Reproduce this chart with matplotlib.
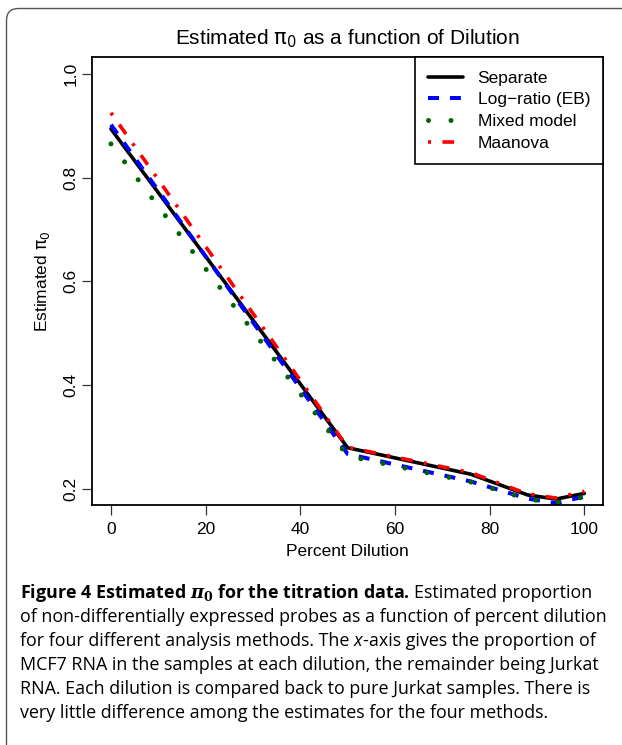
import matplotlib
matplotlib.use("Agg")
import matplotlib.pyplot as plt
from matplotlib.patches import FancyBboxPatch
from matplotlib.transforms import IdentityTransform

# ---------------- data ----------------
dilution = [0, 50, 76, 88, 94, 100]
separate = [0.894, 0.279, 0.228, 0.188, 0.180, 0.191]
log_ratio = [0.902, 0.267, 0.214, 0.181, 0.172, 0.185]
mixed_model = [0.865, 0.263, 0.213, 0.180, 0.173, 0.184]
maanova = [0.925, 0.280, 0.231, 0.190, 0.182, 0.195]

series_labels = ["Separate", "Log\u2212ratio (EB)", "Mixed model", "Maanova"]
x_ticks = [0, 20, 40, 60, 80, 100]
y_ticks = [0.2, 0.4, 0.6, 0.8, 1.0]

caption_bold = "Figure 4 Estimated $\\boldsymbol{\\pi}_{\\mathbf{0}}$ for the titration data."
caption_lines = [
    "Estimated proportion",
    "of non-differentially expressed probes as a function of percent dilution",
    "for four different analysis methods. The",
    "MCF7 RNA in the samples at each dilution, the remainder being Jurkat",
    "RNA. Each dilution is compared back to pure Jurkat samples. There is",
    "very little difference among the estimates for the four methods.",
]

# ---------------- style ----------------
plt.rcParams["font.family"] = ["Liberation Sans", "DejaVu Sans"]
plt.rcParams["lines.scale_dashes"] = False
FS = 12.5

W, H = 622, 745
fig = plt.figure(figsize=(W / 100, H / 100), dpi=100)

ax_l, ax_r, ax_t, ax_b = 92, 603.3, 57.3, 505.3
ax = fig.add_axes([ax_l / W, 1 - ax_b / H, (ax_r - ax_l) / W, (ax_b - ax_t) / H])

ax.plot(dilution, separate, color="black", lw=2.6, solid_joinstyle="round",
        solid_capstyle="round", label=series_labels[0])
ax.plot(dilution, log_ratio, color="#0000FF", lw=2.9, linestyle=(0, (7.9, 7.9)),
        dash_capstyle="butt", dash_joinstyle="round", label=series_labels[1])
ax.plot(dilution, mixed_model, color="#006400", lw=3.6, linestyle=(0, (0.01, 16.2)),
        dash_capstyle="round", label=series_labels[2])
ax.plot(dilution, maanova, color="#FF0000", lw=2.6, linestyle=(0, (2.2, 8.2, 8.4, 8.2)),
        dash_capstyle="butt", dash_joinstyle="round", label=series_labels[3])

ax.set_xlim(-4, 104)
ax.set_ylim(0.168, 1.032)
ax.set_xticks(x_ticks)
ax.set_xticklabels([str(v) for v in x_ticks])
ax.set_yticks(y_ticks)
ax.set_yticklabels([f"{v:.1f}" for v in y_ticks], rotation=90, va="center")
ax.tick_params(axis="both", length=7.5, width=0.9, labelsize=FS, color="#333333")
ax.tick_params(axis="x", pad=4.8)
ax.tick_params(axis="y", pad=2.2)
for s in ax.spines.values():
    s.set_linewidth(1.3)
    s.set_color("black")

ax.set_xlabel("Percent Dilution", fontsize=FS, va="center")
ax.xaxis.set_label_coords(0.5, (ax_b - 551) / (ax_b - ax_t))
ax.set_ylabel("Estimated $\\mathrm{\\pi}_0$", fontsize=FS, va="center",
              math_fontfamily="dejavusans")
ax.yaxis.set_label_coords((42.5 - ax_l) / (ax_r - ax_l), 0.5)

ax.text(0.5, 1 + (ax_t - 39) / (ax_b - ax_t),
        "Estimated $\\mathrm{\\pi}_0$ as a function of Dilution",
        transform=ax.transAxes, ha="center", va="center", fontsize=FS * 1.2,
        math_fontfamily="dejavusans")

leg = ax.legend(loc="upper right", borderaxespad=0, fontsize=FS, handlelength=2.0,
                handletextpad=0.86, borderpad=0.76, labelspacing=0.38, fancybox=False,
                framealpha=1, edgecolor="black")
leg.get_frame().set_linewidth(1.2)

# ---------------- outer rounded border ----------------
border = FancyBboxPatch((6.5, -30), 700, H - 8.5 + 30,
                        boxstyle="round,pad=0,rounding_size=12",
                        transform=IdentityTransform(), fill=False,
                        ec="#555555", lw=1.0)
fig.add_artist(border)

# ---------------- caption ----------------
cap_font = ["Open Sans", "DejaVu Sans"]
fig.canvas.draw()
renderer = fig.canvas.get_renderer()

probe = fig.text(0, 0, caption_lines[1], fontsize=12, family=cap_font)
w2 = probe.get_window_extent(renderer).width
probe.remove()
cfs = 12 * 585.0 / w2

x0 = 20 / W
base0 = 598
step = 24

def ypos(i):
    return 1 - (base0 + i * step) / H

# line 1: bold part + regular
t_bold = fig.text(x0, ypos(0), caption_bold, fontsize=cfs, family=cap_font,
                  weight="bold", va="baseline", math_fontfamily="dejavuserif")
sp = fig.text(0, 0, "a a", fontsize=cfs, family=cap_font)
aa = fig.text(0, 0, "aa", fontsize=cfs, family=cap_font)
space_w = sp.get_window_extent(renderer).width - aa.get_window_extent(renderer).width
sp.remove(); aa.remove()
bx = t_bold.get_window_extent(renderer).x1
fig.text((bx + space_w) / W, ypos(0), caption_lines[0], fontsize=cfs, family=cap_font,
         va="baseline")

fig.text(x0, ypos(1), caption_lines[1], fontsize=cfs, family=cap_font, va="baseline")

# line 3 with italic x
t3 = fig.text(x0, ypos(2), caption_lines[2], fontsize=cfs, family=cap_font, va="baseline")
x3 = t3.get_window_extent(renderer).x1 + space_w
tx = fig.text(x3 / W, ypos(2), "x", fontsize=cfs, family=cap_font, style="italic",
              va="baseline")
x3b = tx.get_window_extent(renderer).x1 + 0.5
fig.text(x3b / W, ypos(2), "-axis gives the proportion of", fontsize=cfs, family=cap_font,
         va="baseline")

for i in range(3, 6):
    fig.text(x0, ypos(i), caption_lines[i], fontsize=cfs, family=cap_font, va="baseline")

fig.savefig("out.png", dpi=100)
